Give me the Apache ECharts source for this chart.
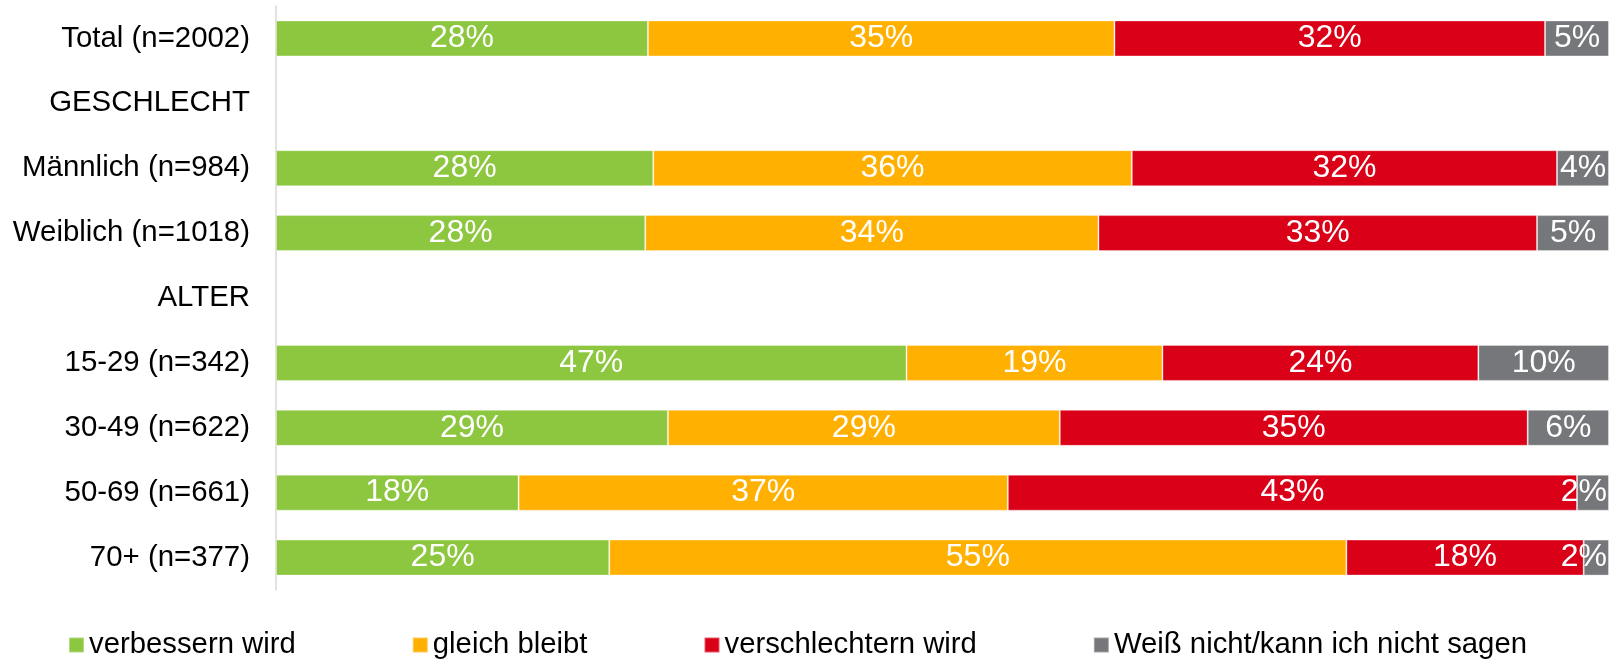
<!DOCTYPE html>
<html>
<head>
<meta charset="utf-8">
<script src="https://cdn.jsdelivr.net/npm/echarts@6/dist/echarts.min.js"></script>
<style>
  html, body { margin: 0; padding: 0; background: #fff; }
  #chart { width: 1616px; height: 661px; }
</style>
</head>
<body>
<div id="chart"></div>
<script>
// Kategorien (Zeilen von oben nach unten)
var categories = ['Total (n=2002)', 'GESCHLECHT', 'Männlich (n=984)', 'Weiblich (n=1018)', 'ALTER',
  '15-29 (n=342)', '30-49 (n=622)', '50-69 (n=661)', '70+ (n=377)'];
var seriesNames = ['verbessern wird', 'gleich bleibt', 'verschlechtern wird', 'Weiß nicht/kann ich nicht sagen'];

// Werte in Prozent (aus dem Bild geschätzt), Leerzeilen = null
var verbessern   = [27.9, null, 28.3, 27.7, null, 47.3, 29.4, 18.2, 25.0];
var gleich       = [35.0, null, 35.9, 34.0, null, 19.2, 29.4, 36.7, 55.3];
var verschlechtern = [32.3, null, 31.9, 32.9, null, 23.7, 35.1, 42.7, 17.8];
var weissNicht   = [4.8, null, 3.9, 5.4, null, 9.8, 6.1, 2.4, 1.9];

var colors = ['#8dc63f', '#ffb000', '#da0017', '#76777a'];
var FONT = '"Liberation Sans", Arial, sans-serif';

var chart = echarts.init(document.getElementById('chart'), null, { renderer: 'canvas' });

function makeSeries(name, data, color) {
  return {
    name: name,
    type: 'bar',
    stack: 'all',
    data: data,
    barWidth: 36,
    itemStyle: { color: color, borderColor: 'rgba(255,255,255,0.35)', borderWidth: 1 },
    label: {
      show: true,
      position: 'inside',
      color: '#fff',
      fontFamily: FONT,
      fontSize: 32,
      padding: [5, 0, 0, 0],
      formatter: function (p) { return p.value == null ? '' : Math.round(p.value) + '%'; }
    },
    // Labels am rechten Rand nicht über die Fläche hinaus
    labelLayout: function (params) {
      var r = params.labelRect;
      var maxX = chart.getWidth() - 9;
      if (r.x + r.width > maxX) {
        return {
          x: maxX - r.width / 2,
          y: r.y + r.height / 2,
          align: 'center',
          verticalAlign: 'middle'
        };
      }
      return {};
    }
  };
}

var option = {
  animation: false,
  backgroundColor: '#fff',
  grid: { left: 276, right: 7, top: 6, bottom: 71, containLabel: false },
  xAxis: { type: 'value', min: 0, max: 100, show: false },
  yAxis: {
    type: 'category',
    data: categories,
    inverse: true,
    axisLine: { show: true, lineStyle: { color: '#d9d9d9', width: 1.5 } },
    axisTick: { show: false },
    axisLabel: { color: '#000', fontFamily: FONT, fontSize: 29.4, margin: 26, padding: [5, 0, 0, 0] }
  },
  legend: {
    left: 68,
    top: 630,
    padding: 0,
    itemWidth: 15,
    itemHeight: 15,
    itemGap: 116,
    icon: 'rect',
    textStyle: { color: '#000', fontFamily: FONT, fontSize: 29.3, lineHeight: 30 },
    data: seriesNames
  },
  series: [
    makeSeries(seriesNames[0], verbessern, colors[0]),
    makeSeries(seriesNames[1], gleich, colors[1]),
    makeSeries(seriesNames[2], verschlechtern, colors[2]),
    makeSeries(seriesNames[3], weissNicht, colors[3])
  ]
};

chart.setOption(option);
</script>
</body>
</html>
